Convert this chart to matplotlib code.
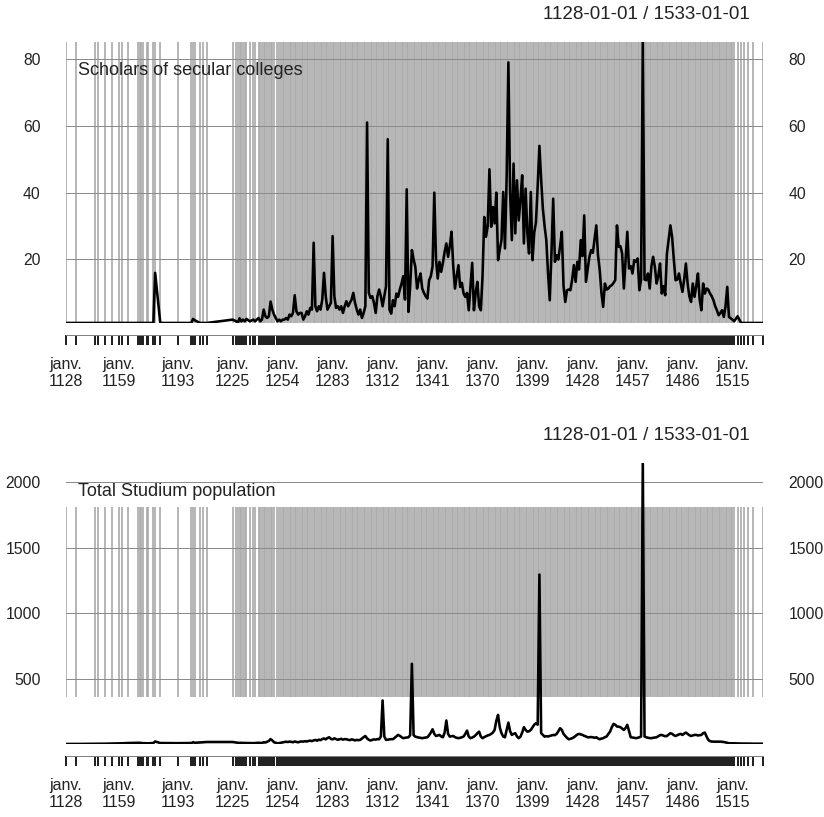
import matplotlib
matplotlib.use("Agg")
import matplotlib.pyplot as plt

plt.rcParams['font.family'] = ['Liberation Sans', 'DejaVu Sans']

# observation years (irregular before 1251, annual afterwards)
years_early = [1128, 1134, 1145, 1147, 1151, 1155, 1159, 1161, 1164, 1170, 1171, 1172, 1173,
               1175, 1176, 1179, 1180, 1183, 1193, 1201, 1202, 1203, 1206, 1208, 1210,
               1225, 1227, 1228, 1229, 1230, 1231, 1232, 1233, 1235, 1237, 1238,
               1240, 1241, 1242, 1243, 1244, 1245, 1246, 1247, 1248, 1249]
years_mid = list(range(1251, 1517))
years_late = [1518, 1520, 1522, 1524, 1527, 1533]
years = years_early + years_mid + years_late

# Scholars of secular colleges
scholars = [
    1, 1, 1, 1, 1, 1, 1, 1, 1, 1, 1, 1, 1, 1, 1, 1, 16, 1, 1, 1, 2.2, 1.8, 1, 1, 1,
    2, 1.5, 1, 2.4, 1.5, 2, 1.5, 2.2, 1.5, 2, 1.5,
    2.5, 1.5, 2, 5, 3, 2.5, 3, 7.4, 5, 3.5,
    # 1251-
    1.5, 2, 1.5, 2, 2, 2.5, 2, 3.5, 3, 4,
    9.3, 4.5, 3.5, 4, 4, 2, 3, 4.5, 3.5, 5.5,
    5, 25, 6, 4.5, 6, 5, 8, 16, 9, 5,
    6, 7, 27, 9, 5.5, 6, 5, 6, 4, 6,
    7.5, 6, 7, 8, 10, 7, 5, 3.5, 5, 2.5,
    4, 6, 61, 10, 8.5, 9, 7, 4, 9, 11,
    9, 6, 9, 12, 56, 5, 3.8, 7.8, 6, 9.8,
    8.8, 11, 12.8, 15, 8, 41, 4.3, 12, 22.8, 20,
    17.8, 11.3, 14, 15.8, 11.3, 10, 9, 8.3, 13.8, 15,
    18, 40, 20, 14.3, 19.3, 16.3, 19, 22.3, 24.8, 20.8,
    24, 28.3, 18, 11.3, 15, 18.3, 11.8, 13, 9.8, 8.8,
    10, 4.8, 12, 19, 4.8, 10, 13.3, 6, 4.8, 15,
    32.7, 26.8, 30, 47, 29.8, 35.7, 30.8, 40, 19.8, 23,
    25.8, 40.2, 23.3, 45, 79, 40, 25.8, 48.7, 27.8, 43.7,
    31.7, 38, 45.2, 24.8, 41.2, 28, 21.8, 40.2, 19.8, 28,
    31.2, 42, 54, 44, 35.2, 30, 25.8, 16, 7.8, 22,
    38.2, 19.3, 21.3, 20, 24, 28.3, 12, 7.3, 10.8, 11,
    10.8, 14, 18.3, 13.3, 19.3, 17, 25.8, 21, 33.2, 13.3,
    17, 20.8, 22.8, 22, 26, 30.2, 21.3, 16.8, 10, 5.8,
    12.8, 11, 11.3, 12, 12.3, 13, 13.8, 30.2, 23.8, 24,
    21.8, 11.3, 20, 28.3, 17.3, 18, 15.8, 19.8, 19.3, 20.3,
    10.8, 14, 85, 14, 13.8, 15.8, 11.3, 18, 20.8, 17.8,
    12.8, 15, 18.8, 9.8, 12, 9.3, 21.8, 26, 30.2, 26.8,
    20, 13.8, 14, 15.8, 12.8, 10.3, 14, 18.8, 12.8, 9,
    7.3, 12.8, 8.8, 12, 15.8, 8, 4.8, 12.8, 9.8, 11.3,
    11, 9.8, 9, 7.8, 6, 4.8, 3.3, 4, 4.8, 2.8,
    6, 11.8, 2.8, 2.4, 2, 1.5,
    # late
    3, 1, 1, 1, 1, 1,
]

# Total Studium population
population = [
    3, 3, 4, 4, 5, 6, 7, 8, 10, 12, 12, 10, 9, 8, 8, 10, 22, 10, 9, 10, 16, 12, 14, 16, 18,
    18, 14, 12, 11, 12, 10, 11, 10, 10, 9, 10,
    12, 11, 10, 16, 14, 20, 26, 40, 30, 16,
    # 1251-
    8, 10, 12, 15, 18, 20, 18, 21, 19, 16,
    22, 18, 16, 20, 22, 21, 24, 22, 26, 28,
    25, 30, 34, 28, 36, 32, 40, 45, 38, 48,
    54, 42, 38, 46, 40, 35, 39, 42, 36, 40,
    39, 35, 32, 38, 35, 30, 34, 32, 34, 45,
    55, 64, 45, 35, 29, 34, 38, 36, 40, 39,
    60, 335, 60, 34, 36, 38, 40, 39, 50, 60,
    72, 65, 55, 47, 50, 52, 54, 70, 615, 70,
    59, 55, 52, 50, 47, 50, 52, 54, 70, 90,
    115, 80, 64, 68, 72, 60, 54, 90, 182, 80,
    59, 62, 64, 55, 50, 47, 50, 54, 60, 80,
    105, 60, 47, 52, 59, 70, 85, 97, 60, 47,
    55, 62, 68, 72, 80, 90, 110, 180, 225, 130,
    85, 60, 54, 110, 166, 100, 72, 80, 85, 60,
    47, 59, 90, 131, 110, 97, 100, 110, 130, 150,
    161, 150, 1296, 85, 72, 59, 62, 60, 64, 68,
    72, 70, 80, 100, 123, 110, 80, 64, 50, 39,
    42, 47, 54, 65, 75, 80, 76, 72, 65, 60,
    54, 54, 56, 54, 50, 54, 45, 39, 44, 47,
    55, 60, 80, 97, 130, 156, 150, 136, 135, 131,
    120, 110, 125, 149, 100, 54, 52, 50, 47, 50,
    54, 60, 2145, 60, 54, 50, 48, 47, 50, 52,
    54, 62, 70, 72, 66, 62, 64, 75, 85, 80,
    70, 64, 70, 76, 80, 72, 82, 90, 80, 70,
    64, 68, 72, 72, 68, 70, 72, 85, 90, 60,
    34, 25, 21, 21, 20, 21, 20, 21, 19, 18,
    15, 12, 8, 8, 8, 8,
    # late
    7, 6, 6, 6, 5, 5,
]

assert len(scholars) == len(years) and len(population) == len(years)

label_years = [1128, 1159, 1193, 1225, 1254, 1283, 1312, 1341, 1370, 1399, 1428, 1457, 1486, 1515]
scholars_ticks = [20, 40, 60, 80]
population_ticks = [500, 1000, 1500, 2000]

panels = [
    ("Scholars of secular colleges", scholars, scholars_ticks, (0.0, 1.0), 0.6047),
    ("Total Studium population", population, population_ticks, (0.168, 0.843), 0.0894),
]

px = 0.72  # points per pixel at dpi 100
fig = plt.figure(figsize=(8.24, 8.17), dpi=100)

for title, values, yticks, vspan, bottom in panels:
    ax = fig.add_axes([0.0795, bottom, 0.847, 0.3435])

    # one grey line per observation date
    ax.vlines(years, vspan[0], vspan[1], transform=ax.get_xaxis_transform(),
              colors='#ababab', lw=1.7 * px, zorder=1)
    for t in yticks:
        ax.axhline(t, color='#8c8c8c', lw=1.0 * px, zorder=2)
    ax.plot(years, values, color='black', lw=2.6 * px, zorder=3)

    ax.set_xlim(years[0], years[-1])
    ax.set_ylim(min(values), max(values))

    ax.set_yticks(yticks)
    ax.set_yticklabels([str(t) for t in yticks])
    ax.tick_params(axis='y', left=False, right=False, labelleft=True, labelright=True,
                   pad=20 * px, labelsize=11.3, labelcolor='#222222')

    ax.set_xticks(label_years)
    ax.set_xticklabels([f"janv.\n{y}" for y in label_years], linespacing=1.85)
    ax.set_xticks(years, minor=True)
    ax.tick_params(axis='x', which='both', direction='out', length=10 * px,
                   width=2.0 * px, color='#222222', labelsize=11.5, labelcolor='#222222',
                   pad=12 * px)

    for side in ('top', 'left', 'right'):
        ax.spines[side].set_visible(False)
    ax.spines['bottom'].set_position(('outward', 12 * px))
    ax.spines['bottom'].set_color('#808080')
    ax.spines['bottom'].set_linewidth(1.0 * px)

    ax.annotate(title, xy=(0, 1), xycoords='axes fraction', xytext=(12 * px, -28 * px),
                textcoords='offset points', ha='left', va='center', fontsize=13,
                color='#222222', zorder=4)

    top = bottom + 0.3435
    fig.text(0.910, top + 0.0335, f"{years[0]}-01-01 / {years[-1]}-01-01",
             ha='right', va='center', fontsize=13.5, color='#222222')

fig.savefig("out.png", dpi=100)
